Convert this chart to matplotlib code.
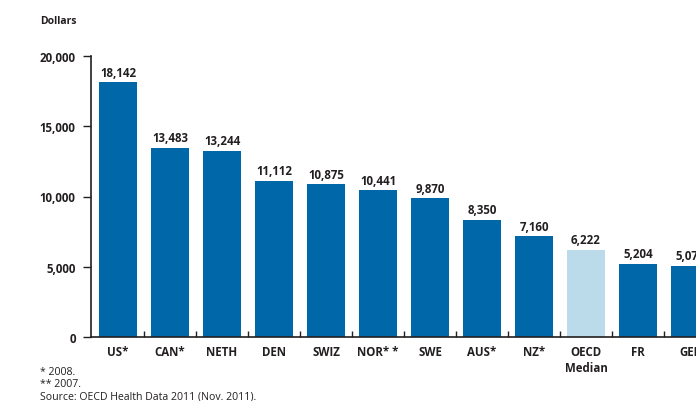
import matplotlib
matplotlib.use("Agg")
import matplotlib.pyplot as plt

categories = ["US*", "CAN*", "NETH", "DEN", "SWIZ", "NOR**", "SWE", "AUS*", "NZ*",
              "OECD\nMedian", "FR", "GER"]
tick_labels = ["US*", "CAN*", "NETH", "DEN", "SWIZ", "NOR* *", "SWE", "AUS*", "NZ*",
               "OECD\nMedian", "FR", "GER"]
values = [18142, 13483, 13244, 11112, 10875, 10441, 9870, 8350, 7160, 6222, 5204, 5075]
highlight = "OECD\nMedian"
y_ticks = [0, 5000, 10000, 15000, 20000]
footnotes = ["* 2008.", "** 2007.", "Source: OECD Health Data 2011 (Nov. 2011)."]

plt.rcParams["font.family"] = ["Open Sans", "DejaVu Sans"]
dark = "#231f20"
blue = "#0068a8"
light = "#bcdbea"

fig = plt.figure(figsize=(6.96, 4.02), dpi=100)
ax = fig.add_axes([91 / 696, (402 - 338) / 402, 1 - 91 / 696, (338 - 57) / 402])

x = list(range(len(values)))
colors = [light if c == highlight else blue for c in categories]
ax.bar(x, values, width=0.73, color=colors, zorder=2)

for xi, v in zip(x, values):
    ax.annotate(f"{v:,}", (xi, v), xytext=(0, 2.5), textcoords="offset points",
                ha="center", va="bottom", fontsize=8.3, fontweight="bold",
                color=dark, annotation_clip=False)

ax.set_xlim(-0.52, 11.115)
ax.set_ylim(0, 20000)
ax.set_yticks(y_ticks)
ax.set_yticklabels([f"{t:,}" for t in y_ticks], fontsize=8.3, fontweight="bold", color=dark)
ax.tick_params(axis="y", length=6, width=1, color=dark, pad=5, direction="out")

# category ticks sit between the bars; labels centred under each bar
ax.set_xticks([i + 0.5 for i in x[:-1]])
ax.set_xticklabels([])
ax.tick_params(axis="x", length=4, width=1, color=dark, direction="in")
for xi, lab in zip(x, tick_labels):
    ax.text(xi, -600, lab, ha="center", va="top", fontsize=8.3, fontweight="bold",
            color=dark, linespacing=1.25, clip_on=False)

for side in ("top", "right"):
    ax.spines[side].set_visible(False)
for side in ("left", "bottom"):
    ax.spines[side].set_color(dark)
    ax.spines[side].set_linewidth(1.2)

fig.text(40 / 696, 1 - 21 / 402, "Dollars", fontsize=7.5, fontweight="bold",
         color=dark, va="center", ha="left")

for i, line in enumerate(footnotes):
    fig.text(40 / 696, 1 - (373 + 12 * i) / 402, line, fontsize=7.6,
             color=dark, va="center", ha="left")

fig.savefig("out.png", dpi=100)
